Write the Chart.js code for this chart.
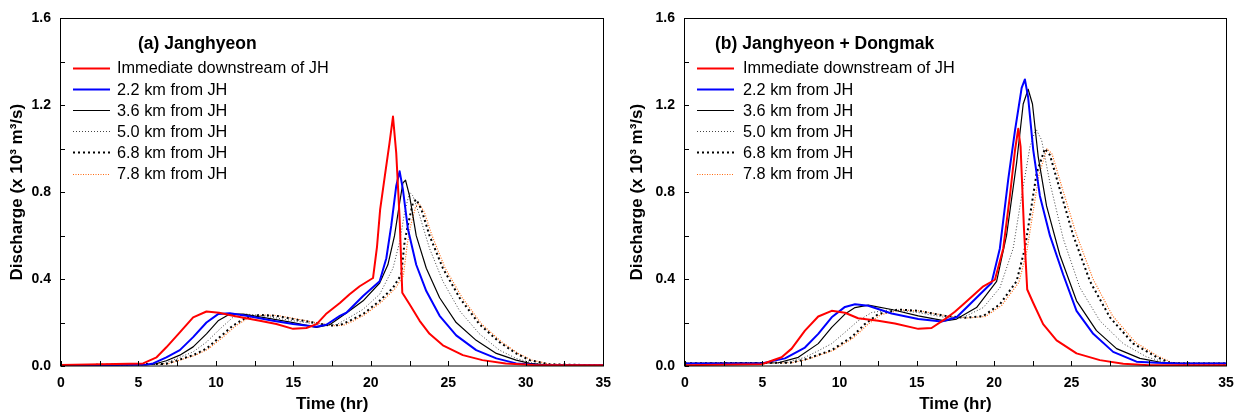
<!DOCTYPE html>
<html>
<head>
<meta charset="utf-8">
<script src="https://cdn.jsdelivr.net/npm/chart.js@4.4.0/dist/chart.umd.min.js"></script>
<style>
  body { margin: 0; background: #fff; }
  #wrapA { position: absolute; left: 0; top: 0; }
  #wrapB { position: absolute; left: 620px; top: 0; }
</style>
</head>
<body>
<div id="wrapA"><canvas id="chartA" width="620" height="418"></canvas></div>
<div id="wrapB"><canvas id="chartB" width="623" height="418"></canvas></div>
<script>
// legend labels
const seriesNames = [
  "Immediate downstream of JH",
  "2.2 km from JH",
  "3.6 km from JH",
  "5.0 km from JH",
  "6.8 km from JH",
  "7.8 km from JH"
];
const panelTitles = ["(a) Janghyeon", "(b) Janghyeon + Dongmak"];

// panel (a) - [time hr, discharge x10^3 m3/s]
const aImmediate = [[0,0.005],[5.3,0.012],[6.17,0.04],[6.8,0.086],[7.67,0.155],[8.53,0.224],[9.39,0.251],[10.2,0.245],[11.1,0.231],[12.83,0.208],[13.9,0.193],[14.98,0.171],[15.84,0.175],[16.5,0.193],[17.1,0.239],[18.0,0.29],[18.63,0.33],[19.28,0.367],[20.14,0.405],[20.4,0.55],[20.6,0.72],[20.9,0.873],[21.2,1.024],[21.43,1.148],[21.64,0.98],[21.86,0.677],[22.03,0.337],[22.5,0.284],[23.15,0.208],[23.79,0.148],[24.65,0.095],[25.94,0.05],[27.2,0.027],[28.7,0.012],[30.5,0.005],[35,0.004]];
const a22 = [[0,0.003],[5.5,0.006],[5.95,0.012],[6.8,0.04],[7.67,0.073],[8.53,0.133],[9.39,0.2],[10.14,0.239],[10.9,0.243],[11.97,0.231],[13.69,0.208],[14.98,0.193],[16.49,0.181],[17.13,0.19],[18.0,0.231],[18.42,0.245],[19.5,0.322],[20.57,0.39],[21.0,0.496],[21.32,0.647],[21.64,0.829],[21.86,0.896],[22.07,0.813],[22.39,0.632],[22.93,0.466],[23.58,0.345],[24.44,0.231],[25.51,0.141],[26.8,0.073],[28.1,0.035],[29.38,0.012],[31,0.004],[35,0.003]];
const a36 = [[0,0.003],[6.0,0.008],[6.8,0.024],[7.67,0.05],[8.53,0.088],[9.39,0.148],[10.14,0.208],[10.9,0.239],[11.76,0.239],[13.69,0.216],[14.98,0.2],[16.49,0.178],[17.34,0.19],[18.63,0.254],[19.5,0.3],[20.57,0.382],[21.1,0.466],[21.53,0.6],[21.86,0.752],[22.07,0.843],[22.24,0.855],[22.5,0.783],[22.93,0.6],[23.58,0.45],[24.44,0.314],[25.51,0.2],[26.8,0.118],[28.1,0.058],[29.38,0.027],[30.25,0.012],[31.5,0.004],[35,0.003]];
const a50 = [[0,0.003],[6.5,0.008],[7.67,0.04],[8.53,0.065],[9.39,0.11],[10.25,0.17],[11.1,0.224],[11.97,0.239],[13.0,0.232],[15.0,0.208],[16.5,0.193],[17.77,0.19],[18.63,0.224],[19.5,0.261],[20.57,0.33],[21.43,0.45],[21.86,0.571],[22.18,0.707],[22.5,0.8],[22.72,0.783],[23.15,0.692],[23.79,0.541],[24.65,0.39],[25.73,0.254],[27.01,0.148],[28.3,0.073],[29.38,0.035],[30.5,0.012],[32,0.004],[35,0.003]];
const a68 = [[0,0.003],[6.8,0.01],[7.67,0.03],[8.53,0.05],[9.39,0.08],[10.25,0.133],[11.1,0.186],[11.97,0.224],[12.83,0.235],[13.9,0.231],[15.0,0.216],[16.3,0.2],[17.34,0.186],[18.0,0.188],[18.63,0.208],[19.5,0.239],[20.57,0.3],[21.43,0.36],[21.96,0.42],[22.18,0.571],[22.39,0.647],[22.72,0.752],[22.93,0.767],[23.26,0.722],[23.79,0.6],[24.65,0.45],[25.73,0.314],[27.0,0.193],[28.3,0.11],[29.38,0.058],[30.25,0.027],[31.5,0.008],[35,0.003]];
const a78 = [[0,0.003],[6.9,0.01],[7.8,0.03],[8.7,0.05],[9.5,0.078],[10.4,0.13],[11.25,0.183],[12.1,0.222],[13.0,0.235],[14.0,0.232],[15.1,0.218],[16.4,0.2],[17.5,0.186],[18.2,0.187],[18.8,0.205],[19.6,0.236],[20.7,0.296],[21.55,0.355],[22.1,0.415],[22.35,0.56],[22.55,0.64],[22.9,0.735],[23.1,0.748],[23.45,0.71],[23.95,0.6],[24.8,0.45],[25.9,0.314],[27.15,0.193],[28.45,0.11],[29.5,0.058],[30.4,0.027],[31.6,0.008],[35,0.003]];

// panel (b)
const bImmediate = [[0,0.004],[4.96,0.008],[6.25,0.04],[6.9,0.08],[7.76,0.163],[8.62,0.228],[9.49,0.254],[10.35,0.245],[11.2,0.22],[12.5,0.208],[13.58,0.196],[15.09,0.171],[15.95,0.175],[16.82,0.216],[17.46,0.25],[18.1,0.29],[19.3,0.367],[20.05,0.397],[20.59,0.541],[21.02,0.783],[21.35,0.994],[21.56,1.092],[21.71,1.01],[21.93,0.632],[22.14,0.352],[22.53,0.29],[23.17,0.193],[24.04,0.118],[25.33,0.058],[26.84,0.027],[28.35,0.01],[30,0.004],[35,0.003]];
const b22 = [[0,0.012],[4.96,0.012],[6.47,0.035],[7.76,0.085],[8.62,0.148],[9.49,0.224],[10.35,0.272],[11.0,0.284],[11.86,0.277],[13.37,0.242],[15.09,0.216],[16.6,0.205],[17.57,0.224],[18.43,0.284],[19.3,0.345],[19.83,0.382],[20.37,0.541],[20.91,0.858],[21.35,1.085],[21.78,1.28],[21.99,1.319],[22.2,1.236],[22.53,0.994],[22.96,0.783],[23.61,0.6],[24.47,0.42],[25.33,0.254],[26.41,0.148],[27.7,0.065],[29.21,0.02],[30.5,0.015],[32,0.012],[35,0.012]];
const b36 = [[0,0.012],[6.04,0.015],[7.33,0.04],[8.62,0.103],[9.49,0.178],[10.35,0.239],[11.0,0.269],[11.86,0.28],[13.37,0.26],[15.09,0.231],[16.82,0.208],[17.57,0.216],[18.86,0.269],[20.16,0.39],[20.8,0.6],[21.45,0.934],[21.88,1.206],[22.2,1.274],[22.48,1.206],[22.85,0.964],[23.39,0.737],[24.25,0.511],[25.33,0.3],[26.62,0.163],[27.92,0.08],[29.43,0.035],[30.93,0.015],[32,0.012],[35,0.012]];
const b50 = [[0,0.012],[6.5,0.015],[7.76,0.04],[8.62,0.07],[9.49,0.103],[10.35,0.155],[11.2,0.208],[12.07,0.246],[13.37,0.26],[15.09,0.246],[16.82,0.224],[18,0.224],[19.3,0.269],[20.37,0.36],[21.23,0.541],[21.78,0.783],[22.32,1.01],[22.7,1.092],[23.07,1.04],[23.61,0.843],[24.47,0.586],[25.55,0.36],[26.84,0.208],[28.35,0.103],[29.86,0.042],[31.15,0.015],[32,0.012],[35,0.012]];
const b68 = [[0,0.012],[6.8,0.015],[7.76,0.03],[9.49,0.073],[10.78,0.133],[11.64,0.193],[12.5,0.239],[13.8,0.26],[15.09,0.254],[16.82,0.231],[18.1,0.222],[19.3,0.23],[20.37,0.284],[21.45,0.39],[21.99,0.541],[22.32,0.692],[22.75,0.888],[23.28,1.0],[23.61,0.971],[24.25,0.813],[25.12,0.6],[26.2,0.39],[27.49,0.224],[29.0,0.103],[30.5,0.042],[31.36,0.015],[32.2,0.012],[35,0.012]];
const b78 = [[0,0.012],[6.9,0.015],[7.9,0.03],[9.6,0.072],[10.9,0.13],[11.8,0.19],[12.65,0.236],[13.95,0.258],[15.25,0.253],[17.0,0.23],[18.25,0.221],[19.45,0.228],[20.5,0.28],[21.6,0.385],[22.12,0.53],[22.45,0.68],[22.9,0.88],[23.42,1.0],[23.75,0.975],[24.4,0.82],[25.3,0.61],[26.4,0.4],[27.65,0.232],[29.15,0.108],[30.6,0.045],[31.5,0.016],[32.3,0.012],[35,0.012]];

const FONT = "'Liberation Sans', Arial, sans-serif";

// line look for each series
const lineStyles = [
  { borderColor: "#ff0000", borderWidth: 2, borderDash: [] },
  { borderColor: "#0000ff", borderWidth: 2, borderDash: [] },
  { borderColor: "#000000", borderWidth: 1.2, borderDash: [] },
  { borderColor: "#444444", borderWidth: 1, borderDash: [1, 2] },
  { borderColor: "#000000", borderWidth: 2, borderDash: [2, 3] },
  { borderColor: "#ff6a10", borderWidth: 1.2, borderDash: [1, 1.5] }
];

function makeDatasets(list) {
  return list.map(function (pts, i) {
    return Object.assign({
      label: seriesNames[i],
      data: pts.map(function (p) { return { x: p[0], y: p[1] }; }),
      pointRadius: 0,
      tension: 0,
      fill: false,
      borderJoinStyle: "round"
    }, lineStyles[i]);
  });
}

// frame, inward ticks and the inside legend
const framePlugin = {
  id: "frame",
  afterDraw(chart, args, opts) {
    const ctx = chart.ctx;
    const a = chart.chartArea;
    ctx.save();
    ctx.strokeStyle = "#000";
    ctx.lineWidth = 1;
    ctx.setLineDash([]);
    ctx.strokeRect(Math.round(a.left) - 0.5, Math.round(a.top) + 0.5,
      Math.round(a.right - a.left) + 1, Math.round(a.bottom - a.top) - 0.5);

    const xs = chart.scales.x, ys = chart.scales.y;
    ctx.beginPath();
    xs.ticks.forEach(function (t) {
      const px = Math.round(xs.getPixelForValue(t.value)) + 0.5;
      ctx.moveTo(px, a.bottom);
      ctx.lineTo(px, a.bottom - 5);
    });
    ys.ticks.forEach(function (t) {
      const py = Math.round(ys.getPixelForValue(t.value)) + 0.5;
      ctx.moveTo(a.left, py);
      ctx.lineTo(a.left + 4, py);
    });
    ctx.stroke();

    // legend title
    ctx.fillStyle = "#000";
    ctx.textBaseline = "middle";
    ctx.textAlign = "left";
    ctx.font = "bold 17.5px " + FONT;
    ctx.fillText(opts.title, a.left + opts.titleDx, 44);

    ctx.font = "16.3px " + FONT;
    chart.data.datasets.forEach(function (ds, i) {
      const y = 68 + i * 21.1;
      ctx.strokeStyle = ds.borderColor;
      ctx.lineWidth = ds.borderWidth;
      ctx.setLineDash(ds.borderDash || []);
      ctx.beginPath();
      ctx.moveTo(a.left + 12, Math.round(y) + 0.5);
      ctx.lineTo(a.left + 49, Math.round(y) + 0.5);
      ctx.stroke();
      ctx.fillText(ds.label, a.left + opts.textDx, y + 1);
    });
    ctx.restore();
  }
};

function makeChart(id, list, title, yWidth, padRight, titleDx, textDx) {
  return new Chart(document.getElementById(id), {
    type: "line",
    data: { datasets: makeDatasets(list) },
    plugins: [framePlugin],
    options: {
      responsive: false,
      animation: false,
      layout: { padding: { top: 13, right: padRight, left: 0, bottom: 0 } },
      plugins: {
        legend: { display: false },
        tooltip: { enabled: false },
        frame: { title: title, titleDx: titleDx, textDx: textDx }
      },
      scales: {
        x: {
          type: "linear",
          min: 0,
          max: 35,
          afterFit: function (s) { s.height = 52; },
          grid: { drawOnChartArea: false, drawTicks: false },
          border: { display: false },
          ticks: {
            stepSize: 2.5,
            autoSkip: false,
            maxRotation: 0,
            padding: 9,
            color: "#000",
            font: { family: FONT, size: 14, weight: "bold" },
            callback: function (v) { return Math.round(v * 10) % 50 === 0 ? String(v) : ""; }
          },
          title: {
            display: true,
            text: "Time (hr)",
            color: "#000",
            padding: { top: 0, bottom: 3 },
            font: { family: FONT, size: 17, weight: "bold" }
          }
        },
        y: {
          min: 0,
          max: 1.6,
          afterFit: function (s) { s.width = yWidth; },
          grid: { drawOnChartArea: false, drawTicks: false },
          border: { display: false },
          ticks: {
            stepSize: 0.2,
            autoSkip: false,
            padding: 10,
            color: "#000",
            font: { family: FONT, size: 14, weight: "bold" },
            callback: function (v) {
              const k = Math.round(v * 10);
              return k % 4 === 0 ? (k / 10).toFixed(1) : "";
            }
          },
          title: {
            display: true,
            text: "Discharge (x 10³ m³/s)",
            color: "#000",
            padding: { top: 7, bottom: 0 },
            font: { family: FONT, size: 17, weight: "bold" }
          }
        }
      }
    }
  });
}

makeChart("chartA", [aImmediate, a22, a36, a50, a68, a78], panelTitles[0], 61, 16, 77, 56);
makeChart("chartB", [bImmediate, b22, b36, b50, b68, b78], panelTitles[1], 65, 17, 30, 58);
</script>
</body>
</html>
